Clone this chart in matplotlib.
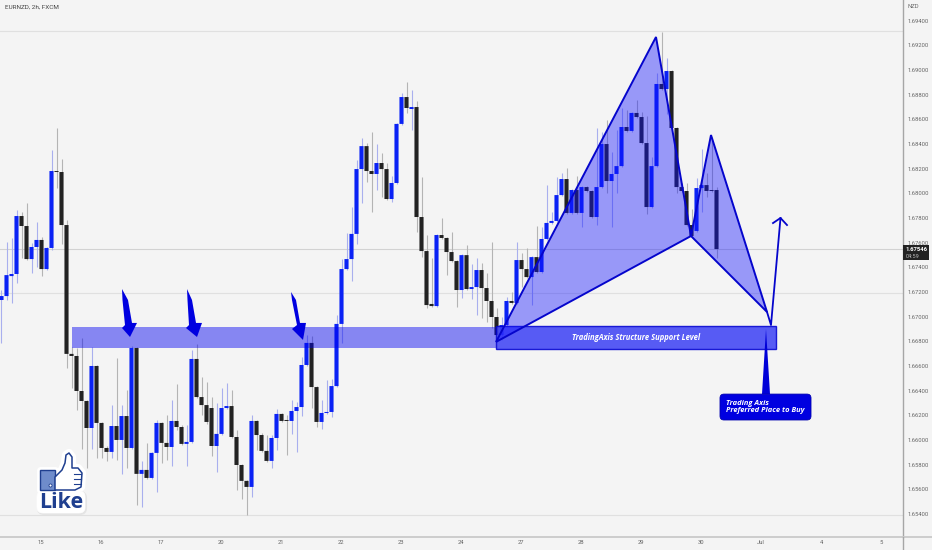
import numpy as np
import matplotlib
matplotlib.use("Agg")
import matplotlib.pyplot as plt
from matplotlib.patches import Polygon, Rectangle, FancyBboxPatch
from matplotlib.lines import Line2D
import matplotlib.patheffects as pe

plt.rcParams['font.family'] = ['Roboto', 'DejaVu Sans']

# ---- chart data (EURNZD, 2h bars) ----
direction = ("UUUUDDUUDU" "UDDDDDDDUD" "DDUDUDUDUD" "UUDDUDDUUD" "DDDUUUDDDD" "UDDDUUDDUU" "UUDDUUUUUU"
             "UUUDDUDDUU" "UDUDDDDUDD" "DDUDUUDDDD" "UUDUDDUDUU" "UUUDUDUDDU" "UDUUUDUDDD" "UUDUDDDDDU" "UDDD")
body_high = [
 1.67167,1.67337,1.67346,1.67816,1.67816,1.67735,1.67565,1.67622,1.67622,1.67557,
 1.68181,1.68181,1.68173,1.67743,1.66698,1.66681,1.66397,1.66316,1.66600,1.66600,
 1.66138,1.65935,1.66113,1.66113,1.66194,1.66194,1.66746,1.66746,1.65757,1.65757,
 1.65895,1.66138,1.66138,1.65976,1.66154,1.66154,1.66105,1.65984,1.66657,1.66657,
 1.66348,1.66283,1.66259,1.66049,1.66259,1.66275,1.66275,1.66024,1.65797,1.65668,
 1.66154,1.66154,1.66040,1.65911,1.66016,1.66211,1.66211,1.66162,1.66235,1.66267,
 1.66608,1.66787,1.66787,1.66429,1.66219,1.66227,1.66437,1.66941,1.67386,1.67467,
 1.67671,1.68197,1.68383,1.68383,1.68181,1.68246,1.68246,1.68197,1.68084,1.68563,
 1.68781,1.68781,1.68700,1.68700,1.67808,1.67532,1.67103,1.67662,1.67662,1.67638,
 1.67524,1.67451,1.67499,1.67499,1.67240,1.67378,1.67378,1.67232,1.67127,1.66997,
 1.66932,1.67127,1.67127,1.67459,1.67459,1.67386,1.67483,1.67483,1.67630,1.67760,
 1.67776,1.67986,1.68116,1.68116,1.68027,1.68027,1.68051,1.68051,1.68019,1.68051,
 1.68400,1.68400,1.68157,1.68221,1.68538,1.68538,1.68652,1.68652,1.68619,1.68408,
 1.68221,1.68887,1.68887,1.68992,1.68992,1.68530,1.68051,1.68019,1.67743,1.68043,
 1.68067,1.68067,1.68027,1.68027]
body_low = [
 1.67135,1.67167,1.67329,1.67346,1.67735,1.67467,1.67467,1.67565,1.67386,1.67386,
 1.67557,1.68173,1.67743,1.66698,1.66681,1.66397,1.66316,1.66097,1.66097,1.66138,
 1.65935,1.65903,1.65903,1.66000,1.66000,1.65935,1.65935,1.65725,1.65725,1.65692,
 1.65692,1.65895,1.65976,1.65943,1.65943,1.66105,1.65968,1.65968,1.65984,1.66348,
 1.66283,1.66146,1.65951,1.65951,1.66049,1.66259,1.66024,1.65797,1.65668,1.65619,
 1.65619,1.66040,1.65911,1.65830,1.65830,1.66016,1.66154,1.66154,1.66154,1.66235,
 1.66267,1.66608,1.66429,1.66146,1.66146,1.66219,1.66227,1.66437,1.66941,1.67386,
 1.67467,1.67671,1.68197,1.68181,1.68157,1.68157,1.68197,1.67954,1.67954,1.68084,
 1.68563,1.68692,1.68684,1.67808,1.67532,1.67094,1.67086,1.67086,1.67638,1.67524,
 1.67451,1.67216,1.67216,1.67224,1.67224,1.67240,1.67232,1.67127,1.66997,1.66851,
 1.66851,1.66932,1.67111,1.67111,1.67386,1.67321,1.67321,1.67362,1.67362,1.67630,
 1.67760,1.67776,1.67986,1.67841,1.67841,1.67841,1.67841,1.68019,1.67808,1.67808,
 1.68051,1.68100,1.68100,1.68157,1.68221,1.68506,1.68506,1.68619,1.68408,1.67889,
 1.67889,1.68221,1.68846,1.68846,1.68530,1.68051,1.68019,1.67743,1.67654,1.67695,
 1.68043,1.68019,1.68019,1.67548]
wick_high = [
 1.67216,1.67606,1.67638,1.67865,1.67849,1.67922,1.67597,1.67768,1.67646,1.67565,
 1.68351,1.68530,1.68278,1.67784,1.66754,1.66746,1.66827,1.66324,1.66754,1.66608,
 1.66146,1.65951,1.66283,1.66665,1.66283,1.66405,1.66762,1.66754,1.65830,1.65976,
 1.65903,1.66162,1.66146,1.66202,1.66324,1.66454,1.66121,1.66121,1.66730,1.66778,
 1.66511,1.66470,1.66348,1.66300,1.66421,1.66462,1.66405,1.66081,1.65805,1.65676,
 1.66202,1.66162,1.66057,1.66040,1.66040,1.66251,1.66219,1.66202,1.66324,1.66308,
 1.66673,1.66851,1.66843,1.66437,1.66324,1.66486,1.66494,1.67014,1.67467,1.67679,
 1.67889,1.68270,1.68449,1.68408,1.68497,1.68400,1.68327,1.68246,1.68141,1.68571,
 1.68814,1.68903,1.68838,1.68749,1.68132,1.67662,1.67475,1.67671,1.67800,1.67646,
 1.67686,1.67459,1.67508,1.67581,1.67427,1.67475,1.67435,1.67354,1.67606,1.67070,
 1.66997,1.67159,1.67200,1.67606,1.67516,1.67557,1.67492,1.67735,1.67727,1.68067,
 1.67849,1.68132,1.68165,1.68205,1.68035,1.68141,1.68059,1.68059,1.68027,1.68530,
 1.68497,1.68595,1.68335,1.68514,1.68692,1.68676,1.68660,1.68757,1.68660,1.68627,
 1.68294,1.68976,1.69308,1.69097,1.69000,1.68538,1.68084,1.68084,1.67873,1.68124,
 1.68359,1.68165,1.68457,1.68051]
wick_low = [
 1.66787,1.67135,1.67111,1.67273,1.67475,1.67459,1.67354,1.67403,1.67329,1.67378,
 1.67540,1.68043,1.67589,1.66584,1.66421,1.66243,1.65927,1.65773,1.65927,1.65854,
 1.65854,1.65830,1.65854,1.65838,1.65725,1.65773,1.65927,1.65473,1.65456,1.65684,
 1.65684,1.65578,1.65813,1.65838,1.65789,1.66081,1.65959,1.65789,1.65976,1.66340,
 1.66202,1.66129,1.65870,1.65740,1.66040,1.66251,1.66016,1.65595,1.65521,1.65391,
 1.65537,1.65919,1.65903,1.65822,1.65773,1.65919,1.66146,1.65878,1.66049,1.65903,
 1.66194,1.66600,1.66259,1.66105,1.66089,1.66211,1.66186,1.66429,1.66787,1.67378,
 1.67289,1.67589,1.67922,1.68092,1.67849,1.68027,1.67970,1.67946,1.67930,1.68076,
 1.68555,1.68652,1.68514,1.67686,1.67483,1.67070,1.67078,1.67078,1.67630,1.67337,
 1.67443,1.67078,1.67151,1.67216,1.67143,1.67014,1.66989,1.66957,1.66908,1.66835,
 1.66811,1.66924,1.67103,1.67103,1.67240,1.67313,1.67094,1.67354,1.67354,1.67622,
 1.67752,1.67768,1.67978,1.67832,1.67832,1.67832,1.67727,1.68011,1.67800,1.67743,
 1.68043,1.68002,1.67727,1.68002,1.68213,1.68497,1.68497,1.68611,1.68400,1.67832,
 1.67881,1.68213,1.68838,1.68643,1.68522,1.68002,1.68011,1.67735,1.67646,1.67686,
 1.67849,1.67970,1.68011,1.67475]

x_tick_labels = ['15','16','17','20','21','22','23','24','27','28','29','30','Jul','4','5']
first_tick_bar = 7.9
bars_per_day = 12
y_tick_values = [1.694 - 0.002*k for k in range(21)]

hlines_prices = [1.69316, 1.67192, 1.65391]
last_price = 1.67548

# harmonic pattern points (bar index, price)
X = (98.9, 1.66795); A = (130.9, 1.69268); B = (137.9, 1.67654)
C = (141.9, 1.68473); D = (153.1, 1.67038); E = (153.9, 1.66932)
F = (155.8, 1.67800)

BG = '#f4f4f4'; BLUE = '#0a22f5'; BLACK = '#222222'; DEEP = '#0000e0'; TICK = '#666666'

fig = plt.figure(figsize=(9.32, 5.5), dpi=100, facecolor=BG)
ax = fig.add_axes([0, 13/550, 903/932, 537/550], facecolor=BG)
ax.set_xlim(-0.3, 180.3)
ax.set_ylim(1.65213, 1.69568)

for p in hlines_prices:
    ax.axhline(p, color='#e0e0e0', lw=0.8, zorder=1)
ax.axhline(last_price, color='#d2d2d2', lw=0.8, zorder=1)

bars = np.arange(len(direction))
up = np.array([c == 'U' for c in direction])
hi, lo, bh, bl = map(np.array, (wick_high, wick_low, body_high, body_low))

ax.vlines(bars[up], lo[up], hi[up], color='#a9afee', lw=0.8, zorder=2)
ax.vlines(bars[~up], lo[~up], hi[~up], color='#b4b4b4', lw=0.8, zorder=2)
for mask, col in ((up, BLUE), (~up, BLACK)):
    cont = ax.bar(bars[mask], (bh-bl)[mask], bottom=bl[mask], width=0.82, color=col, zorder=3, lw=0)
    for patch in cont:
        patch.set_snap(False)

# support zones
ax.add_patch(Rectangle((14.04, 1.66746), 98.9-14.04, 1.66916-1.66746, fc='#0000f0', alpha=0.45, lw=0, zorder=4))
ax.add_patch(Rectangle((98.9, 1.66738), 154.9-98.9, 1.66924-1.66738, fc='#3c40f5', alpha=0.85, ec='#0000d0', lw=1.0, zorder=5))
ax.text(126.9, 1.66827, 'TradingAxis Structure Support Level', color='white', fontsize=5.5,
        family=['Open Sans', 'DejaVu Sans'], style='italic', weight='bold', ha='center', va='center', zorder=8)

# pattern
for tri in ([X, A, B], [B, C, D]):
    ax.add_patch(Polygon(tri, closed=True, fc='#1010ff', alpha=0.40, lw=0, zorder=5))
    ax.add_patch(Polygon(tri, closed=True, fc='none', ec='#0505cc', lw=1.4, zorder=6, joinstyle='miter'))
ax.plot([D[0], E[0], F[0]], [D[1], E[1], F[1]], color='#0505cc', lw=1.3, zorder=6)
ax.plot([154.3, F[0], 157.1], [1.67759, F[1], 1.67743], color='#0505cc', lw=1.3, zorder=6)

# callout
ax.add_patch(Polygon([(152.1, 1.66372), (153.7, 1.66372), (152.9, 1.66900)], closed=True, fc='#0000d8', lw=0, zorder=7))
ax.add_patch(FancyBboxPatch((143.7, 1.66162), 161.9-143.7, 1.66372-1.66162,
                            boxstyle='round,pad=0,rounding_size=0.8', mutation_aspect=0.000405,
                            fc=DEEP, ec='#0000b0', lw=0.6, zorder=7))
ax.text(144.9, 1.66267, 'Trading Axis\nPreferred Place to Buy', color='white', fontsize=5.4, linespacing=1.0,
        family=['Open Sans', 'DejaVu Sans'], style='italic', weight='bold', ha='left', va='center', zorder=8)

# touch arrows
arrows = [
    [(24.1, 1.67224), (25.3, 1.67135), (26.1, 1.66949), (27.1, 1.66949), (25.7, 1.66835), (24.1, 1.66908), (24.7, 1.66932), (24.2, 1.67135)],
    [(37.1, 1.67224), (38.1, 1.67135), (38.9, 1.66949), (40.1, 1.66949), (39.1, 1.66835), (36.9, 1.66908), (37.5, 1.66932), (37.2, 1.67135)],
    [(57.9, 1.67200), (58.9, 1.67135), (59.7, 1.66949), (60.9, 1.66949), (60.3, 1.66811), (58.1, 1.66900), (59.1, 1.66932), (58.1, 1.67135)],
]
for a in arrows:
    ax.add_patch(Polygon(a, closed=True, fc=DEEP, lw=0, zorder=7))

# axes furniture
for s in ('left', 'top'):
    ax.spines[s].set_visible(False)
ax.spines['right'].set_color('#a6a6a6'); ax.spines['right'].set_linewidth(1.0)
ax.spines['bottom'].set_color('#cccccc'); ax.spines['bottom'].set_linewidth(1.4)
fig.add_artist(Line2D([903/932, 1], [13/550, 13/550], color='#cccccc', lw=1.4))
fig.add_artist(Line2D([903/932, 903/932], [0, 13/550], color='#a6a6a6', lw=1.0))

ax.set_xticks([first_tick_bar + k*bars_per_day for k in range(len(x_tick_labels))])
ax.set_xticklabels(x_tick_labels)
ax.yaxis.tick_right()
ax.set_yticks(y_tick_values)
ax.set_yticklabels([f'{v:.5f}' for v in y_tick_values])
ax.tick_params(axis='x', length=0, labelsize=4.2, labelcolor=TICK, pad=2.5)
ax.tick_params(axis='y', length=0, labelsize=4.2, labelcolor=TICK, pad=3.5)

ax.text(0.005, 0.987, 'EURNZD, 2h, FXCM', transform=ax.transAxes, fontsize=4.6, color='#444444', ha='left', va='center')
fig.text(907/932, 1-6/550, 'NZD', fontsize=4.2, color=TICK, ha='left', va='center')

# last price tag
ax.add_patch(Rectangle((180.3, 1.67459), 5.2, 1.67581-1.67459, fc='#222222', lw=0, clip_on=False, zorder=9))
ax.text(182.9, 1.67548, '1.67546', fontsize=4.2, color='white', weight='bold', ha='center', va='center', clip_on=False, zorder=10)
ax.text(180.8, 1.67488, '04:59', fontsize=4.0, color='#bbbbbb', ha='left', va='center', clip_on=False, zorder=10)

# "Like" sticker, decorative overlay in pixel space
ov = fig.add_axes([0, 0, 1, 1], facecolor='none')
ov.set_xlim(0, 932); ov.set_ylim(550, 0); ov.axis('off')
hand = [(55,477),(62,470),(65,463),(66,455),(69,453),(72,457),(72,468),(78,468),(82,473),(81,487),(75,490),(55,490)]
halo_kw = dict(fc='white', ec='white', joinstyle='round')
ov.add_patch(FancyBboxPatch((38,492), 48, 22, boxstyle='round,pad=0,rounding_size=6', fc='#e4e4e4', ec='#e4e4e4', lw=1.5))
ov.add_patch(FancyBboxPatch((37,491), 48, 22, boxstyle='round,pad=0,rounding_size=6', fc='white', ec='white', lw=0.5))
ov.add_patch(Rectangle((40,470), 15, 20, lw=5, **halo_kw))
ov.add_patch(Polygon(hand, closed=True, lw=6, **halo_kw))
ov.add_patch(Rectangle((40,470), 15, 20, fc='#6f8ccb', ec='#1f3f8f', lw=1.0))
ov.add_patch(Polygon(hand, closed=True, fc='white', ec='#1f3f8f', lw=1.1, joinstyle='round'))
for y0 in (474, 479, 484):
    ov.plot([74, 81], [y0, y0], color='#1f3f8f', lw=0.8)
ov.plot([50], [485], marker='o', ms=2.2, mfc='white', mec='#1f3f8f', mew=0.6)
ov.text(61, 502, 'Like', fontsize=15.5, weight='bold', color='#1f3f8f', family=['Open Sans', 'DejaVu Sans'],
        ha='center', va='center')

fig.savefig('out.png', dpi=100, facecolor=BG)
